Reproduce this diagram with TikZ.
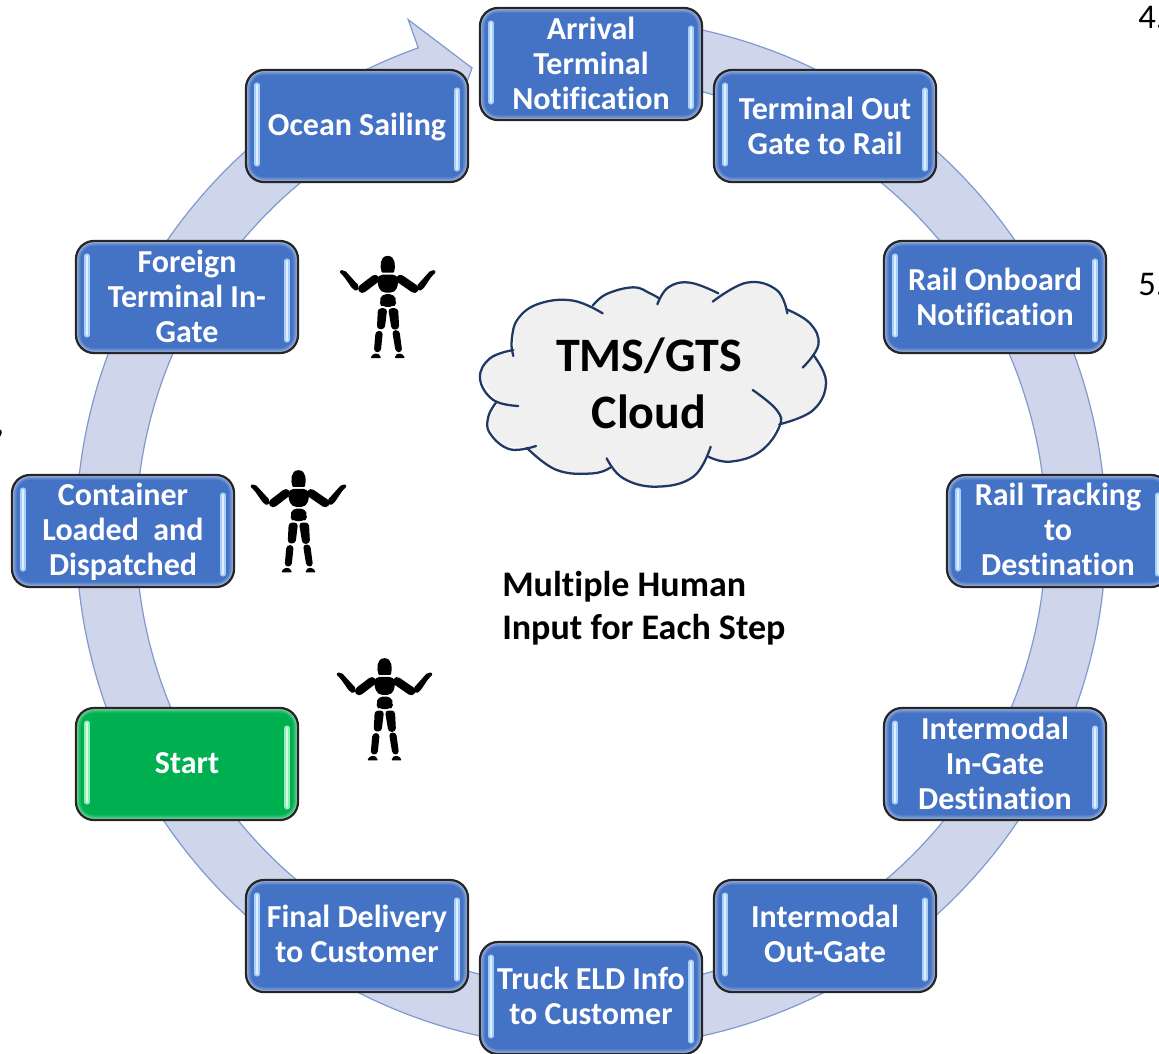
\documentclass[tikz,border=0pt]{standalone}
\usepackage{fontspec}
\setmainfont{Carlito}[Ligatures=NoCommon]
\definecolor{bandfill}{HTML}{CFD5EA}
\definecolor{bandline}{HTML}{7F9AD0}
\definecolor{boxblue}{HTML}{4472C4}
\definecolor{barblue}{HTML}{A6D0FA}
\definecolor{boxgreen}{HTML}{00B050}
\definecolor{bargreen}{HTML}{8CF0B4}
\definecolor{cloudline}{HTML}{1F3864}
\definecolor{cloudfill}{HTML}{F0F0F0}
\tikzset{
  procbox/.style n args={2}{draw=black!85,line width=1.7pt,fill=#1,rounded corners=13.5pt,
    minimum width=166.5pt,minimum height=84pt,inner sep=0pt,
    path picture={
      \foreach \w/\m in {7/12,5/25,3/45,1.5/65}{
        \draw[white!\m!#1,line width=\w pt,rounded corners=13.5pt]
          ([xshift=-83.25pt,yshift=-42pt]path picture bounding box.center) rectangle
          ([xshift=83.25pt,yshift=42pt]path picture bounding box.center);
      }
      \foreach \sx/\ya/\yb in {-75/30.75/-28.5,75/27/-32.25}{
        \draw[#2,line width=3.8pt,line cap=round]
          ([xshift=\sx pt,yshift=\ya pt]path picture bounding box.center) --
          ([xshift=\sx pt,yshift=\yb pt]path picture bounding box.center);
        \draw[white!65!#2,line width=1.4pt,line cap=round]
          ([xshift=\sx pt,yshift=\ya pt]path picture bounding box.center) --
          ([xshift=\sx pt,yshift=\yb pt]path picture bounding box.center);
      }
    }},
  bluebox/.style={procbox={boxblue}{barblue}},
  greenbox/.style={procbox={boxgreen}{bargreen}},
  boxtext/.style={align=center,text=white,inner sep=0pt,font=\fontsize{24}{26.25}\selectfont\bfseries},
  cloudarc/.style={draw=cloudline,line width=1.7pt,line cap=round},
  human/.pic={
    \begin{scope}[shift={(-203,-200)},fill=black,draw=black,line width=1.2pt,line join=round]
      \filldraw (203,50) .. controls (225,50) and (224,80) .. (220,95) -- (187,95) .. controls (182,80) and (181,50) .. (203,50) -- cycle;
      \filldraw[rounded corners=3pt] (177,106) -- (229,106) -- (234,125) -- (224,155) -- (184,155) -- (173,125) -- cycle;
      \filldraw[rounded corners=3pt] (186,165) -- (221,165) -- (227,185) -- (221,198) -- (186,198) -- (181,185) -- cycle;
      \filldraw[rounded corners=2pt] (176,207) -- (199,207) -- (192,265) -- (173,265) -- cycle;
      \filldraw[rounded corners=2pt] (207,207) -- (232,207) -- (235,265) -- (217,267) -- cycle;
      \filldraw[rounded corners=2pt] (169,275) -- (186,275) -- (180,334) -- (164,334) -- cycle;
      \filldraw[rounded corners=2pt] (219,273) -- (236,273) -- (244,334) -- (229,334) -- cycle;
      \filldraw (155,352) .. controls (158,342) and (176,338) .. (180,352) -- cycle;
      \filldraw (227,352) .. controls (230,338) and (248,342) .. (251,352) -- cycle;
      \draw[line width=6.4pt,line cap=round] (165,117) -- (127,146);
      \draw[line width=6.4pt,line cap=round] (241,117) -- (283,146);
      \filldraw[rounded corners=1.5pt] (59,94) -- (72,92) -- (116,140) -- (110,151) -- (100,146) -- (72,106) -- cycle;
      \filldraw[rounded corners=1.5pt] (347,94) -- (334,92) -- (291,140) -- (297,151) -- (307,146) -- (334,106) -- cycle;
    \end{scope}
  }
}
% style, name, x, y, text offset (pixels down), text
\newcommand{\flowbox}[6]{\node[#1,label={[boxtext,name=#2text,yshift={-(#5)*0.75pt}]center:{#6}}] (#2) at (#3,#4) {};}
\begin{document}
\begin{tikzpicture}[x=0.75pt,y=-0.75pt]
\clip[use as bounding box] (0,0) rectangle (1159,1053);
% ring arrow
\begin{scope}[shift={(591,533)}]
  \filldraw[fill=bandfill,draw=bandline,line width=0.9pt,line join=miter]
    (-95:515) arc[start angle=-95,end angle=250.4,radius=515]
    -- (250.4:545) -- (255.65:480) -- (250.4:425) -- (250.4:455)
    arc[start angle=250.4,end angle=-95,radius=455] -- cycle;
\end{scope}
% process boxes
\flowbox{bluebox}{arrival}{591}{64}{-1}{Arrival\\Terminal\\Notification}
\flowbox{bluebox}{outgate}{825}{126}{0}{Terminal Out\\Gate to Rail}
\flowbox{bluebox}{onboard}{995}{297}{0}{Rail Onboard\\Notification}
\flowbox{bluebox}{tracking}{1058}{531}{-1.5}{Rail Tracking\\to\\Destination}
\flowbox{bluebox}{ingate}{995}{764}{-1}{Intermodal\\In-Gate\\Destination}
\flowbox{bluebox}{imout}{825}{936}{-2}{Intermodal\\Out-Gate}
\flowbox{bluebox}{truck}{591}{998}{-2}{Truck ELD Info\\to Customer}
\flowbox{bluebox}{final}{357}{936}{-2}{Final Delivery\\to Customer}
\flowbox{greenbox}{start}{187}{764}{-1}{Start}
\flowbox{bluebox}{loaded}{123}{531}{1}{Container\\Loaded\ \ and\\Dispatched}
\flowbox{bluebox}{foreign}{187}{297}{-1}{Foreign\\Terminal In-\\Gate}
\flowbox{bluebox}{ocean}{357}{126}{1}{Ocean Sailing}
% cloud
\begin{scope}[shift={(460,270)},scale=1/3]
  \fill[cloudfill] plot[smooth cycle,tension=0.6] coordinates {
    (160,240)(165,170)(240,100)(340,92)(398,107)(440,72)(520,52)(597,85)(625,52)(690,38)(775,70)
    (860,38)(950,60)(980,118)(1050,160)(1075,225)(1060,255)(1098,335)(1060,420)(958,463)
    (900,540)(800,575)(745,560)(700,625)(590,650)(490,625)(455,590)(400,610)(290,600)(200,538)
    (130,525)(85,460)(110,395)(62,320)(100,262)};
  \draw[cloudarc] plot[smooth,tension=0.7] coordinates {(160,258)(155,210)(175,145)(240,100)(340,92)(428,130)};
  \draw[cloudarc] plot[smooth,tension=0.7] coordinates {(398,107)(440,72)(520,52)(570,70)(597,85)};
  \draw[cloudarc] plot[smooth,tension=0.7] coordinates {(592,103)(625,52)(690,38)(775,70)};
  \draw[cloudarc] plot[smooth,tension=0.7] coordinates {(758,95)(860,38)(950,60)(982,130)};
  \draw[cloudarc] plot[smooth,tension=0.7] coordinates {(980,118)(1050,160)(1075,225)(1028,293)};
  \draw[cloudarc] plot[smooth,tension=0.7] coordinates {(1060,255)(1098,335)(1060,420)(958,463)};
  \draw[cloudarc] plot[smooth,tension=0.7] coordinates {(878,360)(950,420)(958,470)(900,545)(810,575)(745,560)};
  \draw[cloudarc] plot[smooth,tension=0.7] coordinates {(752,530)(700,620)(590,650)(490,625)(440,565)};
  \draw[cloudarc] plot[smooth,tension=0.7] coordinates {(455,590)(400,610)(290,600)(200,533)};
  \draw[cloudarc] plot[smooth,tension=0.7] coordinates {(228,528)(150,538)(90,490)(85,440)(110,395)};
  \draw[cloudarc] plot[smooth,tension=0.7] coordinates {(175,408)(100,390)(60,325)(90,265)(160,240)};
\end{scope}
\node[font=\fontsize{36}{42.75}\selectfont\bfseries,align=center,inner sep=0pt] (cloudtext) at (649,383) {TMS/GTS\\Cloud};
% human figures
\pic at (387.7,306.7) [scale=1/3] {human};
\pic at (298.5,521) [scale=1/3] {human};
\pic at (384.5,709) [scale=1/3] {human};
\node[font=\fontsize{27}{32.25}\selectfont\bfseries,align=left,inner sep=0pt,anchor=west] (inputnote) at (502,608) {Multiple Human\\Input for Each Step};
% cut-off text at the edges
\node[font=\fontsize{26}{28}\selectfont,anchor=west,inner sep=0pt] (cutfour) at (1138,18) {4.};
\node[font=\fontsize{26}{28}\selectfont,anchor=west,inner sep=0pt] (cutfive) at (1138,285) {5.};
\node[font=\fontsize{24}{28}\selectfont\bfseries,anchor=east,inner sep=0pt] (cutcomma) at (4,434) {,};
\end{tikzpicture}
\end{document}
